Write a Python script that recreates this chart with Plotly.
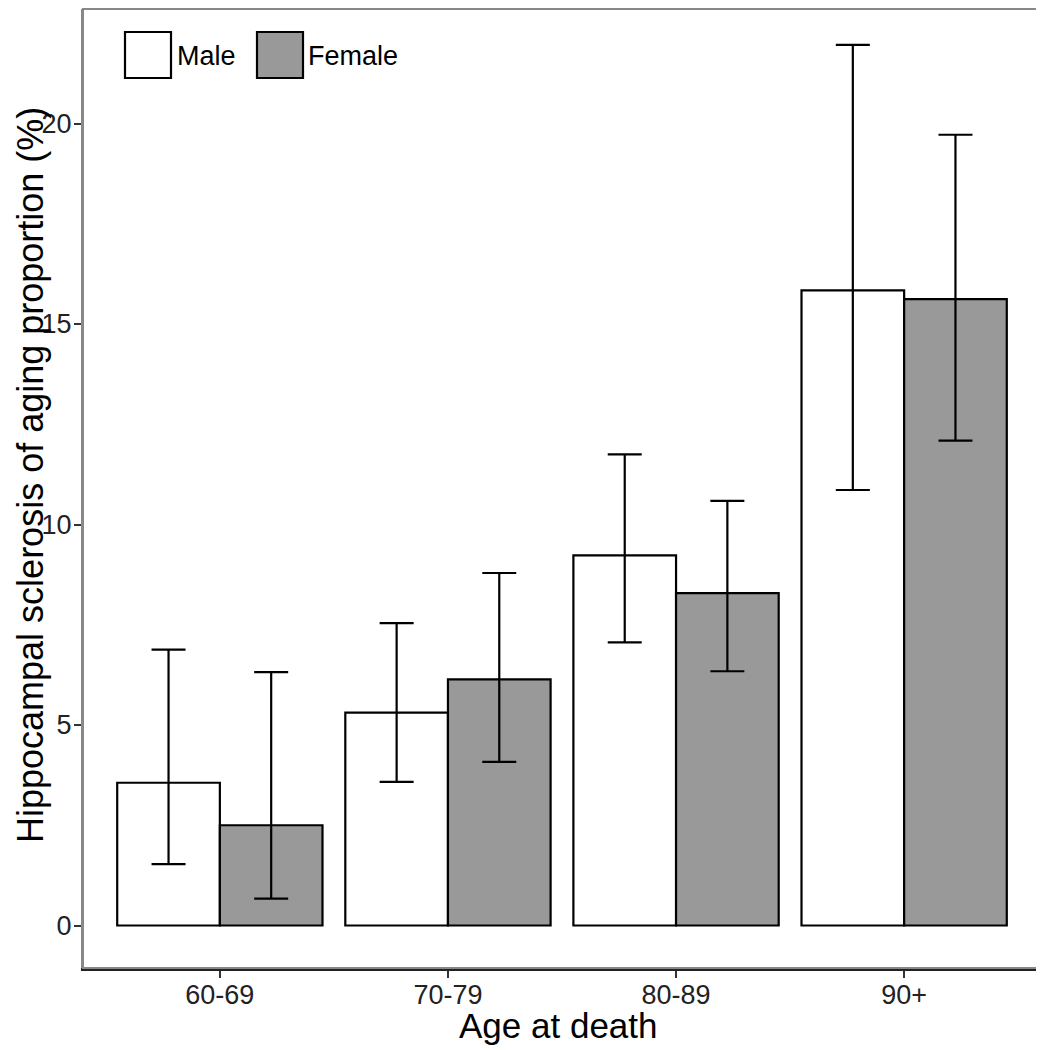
import plotly.graph_objects as go

# ---- data ----
categories = ["60-69", "70-79", "80-89", "90+"]
male_values = [3.56, 5.31, 9.23, 15.84]
male_upper = [6.88, 7.54, 11.75, 21.96]
male_lower = [1.53, 3.58, 7.06, 10.86]
female_values = [2.50, 6.14, 8.29, 15.62]
female_upper = [6.32, 8.79, 10.59, 19.72]
female_lower = [0.67, 4.08, 6.34, 12.09]
y_ticks = [0, 5, 10, 15, 20]

FONT = "Liberation Sans, Arial, Helvetica, sans-serif"
# the page body adds an 8px offset; size the figure so it fits the window
OFF = 8
W, H = 1044 - OFF, 1050 - OFF
ML, MR, MT, MB = 75, 3, 1, 82
PW, PH = W - ML - MR, H - MT - MB


def px_x(x):  # page pixel -> paper
    return (x - OFF - ML) / PW


def px_y(y):
    return 1 - (y - OFF - MT) / PH


def err(vals, up, lo):
    return dict(type="data", symmetric=False,
                array=[u - v for u, v in zip(up, vals)],
                arrayminus=[v - l for v, l in zip(vals, lo)],
                color="black", thickness=2.2, width=17)


fig = go.Figure()
fig.add_trace(go.Bar(
    x=categories, y=male_values, name="Male",
    marker=dict(color="white", line=dict(color="black", width=2.2)),
    error_y=err(male_values, male_upper, male_lower)))
fig.add_trace(go.Bar(
    x=categories, y=female_values, name="Female",
    marker=dict(color="#999999", line=dict(color="black", width=2.2)),
    error_y=err(female_values, female_upper, female_lower)))

# panel border + manual legend
shapes = [
    dict(type="rect", xref="paper", yref="paper", x0=0, x1=1, y0=0, y1=1,
         line=dict(color="#888888", width=2), fillcolor="rgba(0,0,0,0)", layer="above"),
    dict(type="rect", xref="paper", yref="paper",
         x0=px_x(125), x1=px_x(171), y0=px_y(78), y1=px_y(32),
         line=dict(color="black", width=2.2), fillcolor="white"),
    dict(type="rect", xref="paper", yref="paper",
         x0=px_x(257), x1=px_x(303), y0=px_y(78), y1=px_y(32),
         line=dict(color="black", width=2.2), fillcolor="#999999"),
]
annotations = [
    dict(text="Male", xref="paper", yref="paper", x=px_x(175), y=px_y(56),
         xanchor="left", yanchor="middle", showarrow=False,
         font=dict(family=FONT, size=27, color="black")),
    dict(text="Female", xref="paper", yref="paper", x=px_x(306), y=px_y(56),
         xanchor="left", yanchor="middle", showarrow=False,
         font=dict(family=FONT, size=27, color="black")),
    dict(text="Age at death", xref="paper", yref="paper", x=px_x(558), y=px_y(1026),
         xanchor="center", yanchor="middle", showarrow=False,
         font=dict(family=FONT, size=35, color="black")),
    dict(text="Hippocampal sclerosis of aging proportion (%)", textangle=-90,
         xref="paper", yref="paper", x=px_x(8.5), y=px_y(475),
         xanchor="left", yanchor="middle", showarrow=False, borderpad=0,
         font=dict(family=FONT, size=36, color="black")),
]

fig.update_layout(
    width=W, height=H,
    margin=dict(l=ML, r=MR, t=MT, b=MB, autoexpand=False),
    paper_bgcolor="white", plot_bgcolor="white",
    barmode="group", bargap=0.1, bargroupgap=0,
    showlegend=False,
    font=dict(family=FONT, color="black"),
    shapes=shapes, annotations=annotations,
)
fig.update_xaxes(
    range=[-0.6, 3.6], showgrid=False, zeroline=False, automargin=False,
    showline=True, linecolor="#222222", linewidth=2.5,
    ticks="outside", ticklen=7, tickwidth=1.5, tickcolor="#333333",
    ticklabelstandoff=-6,
    tickfont=dict(family=FONT, size=27, color="#222222"),
)
fig.update_yaxes(
    range=[-(968 - 925.5) / 40.1, (925.5 - 9) / 40.1],
    showgrid=False, zeroline=False, automargin=False,
    showline=True, linecolor="#888888", linewidth=2,
    tickvals=y_ticks, ticktext=[str(t) for t in y_ticks],
    ticks="outside", ticklen=7, tickwidth=1.5, tickcolor="#333333",
    ticklabelstandoff=-3,
    tickfont=dict(family=FONT, size=27, color="#222222"),
)

fig.write_html("out.html")
